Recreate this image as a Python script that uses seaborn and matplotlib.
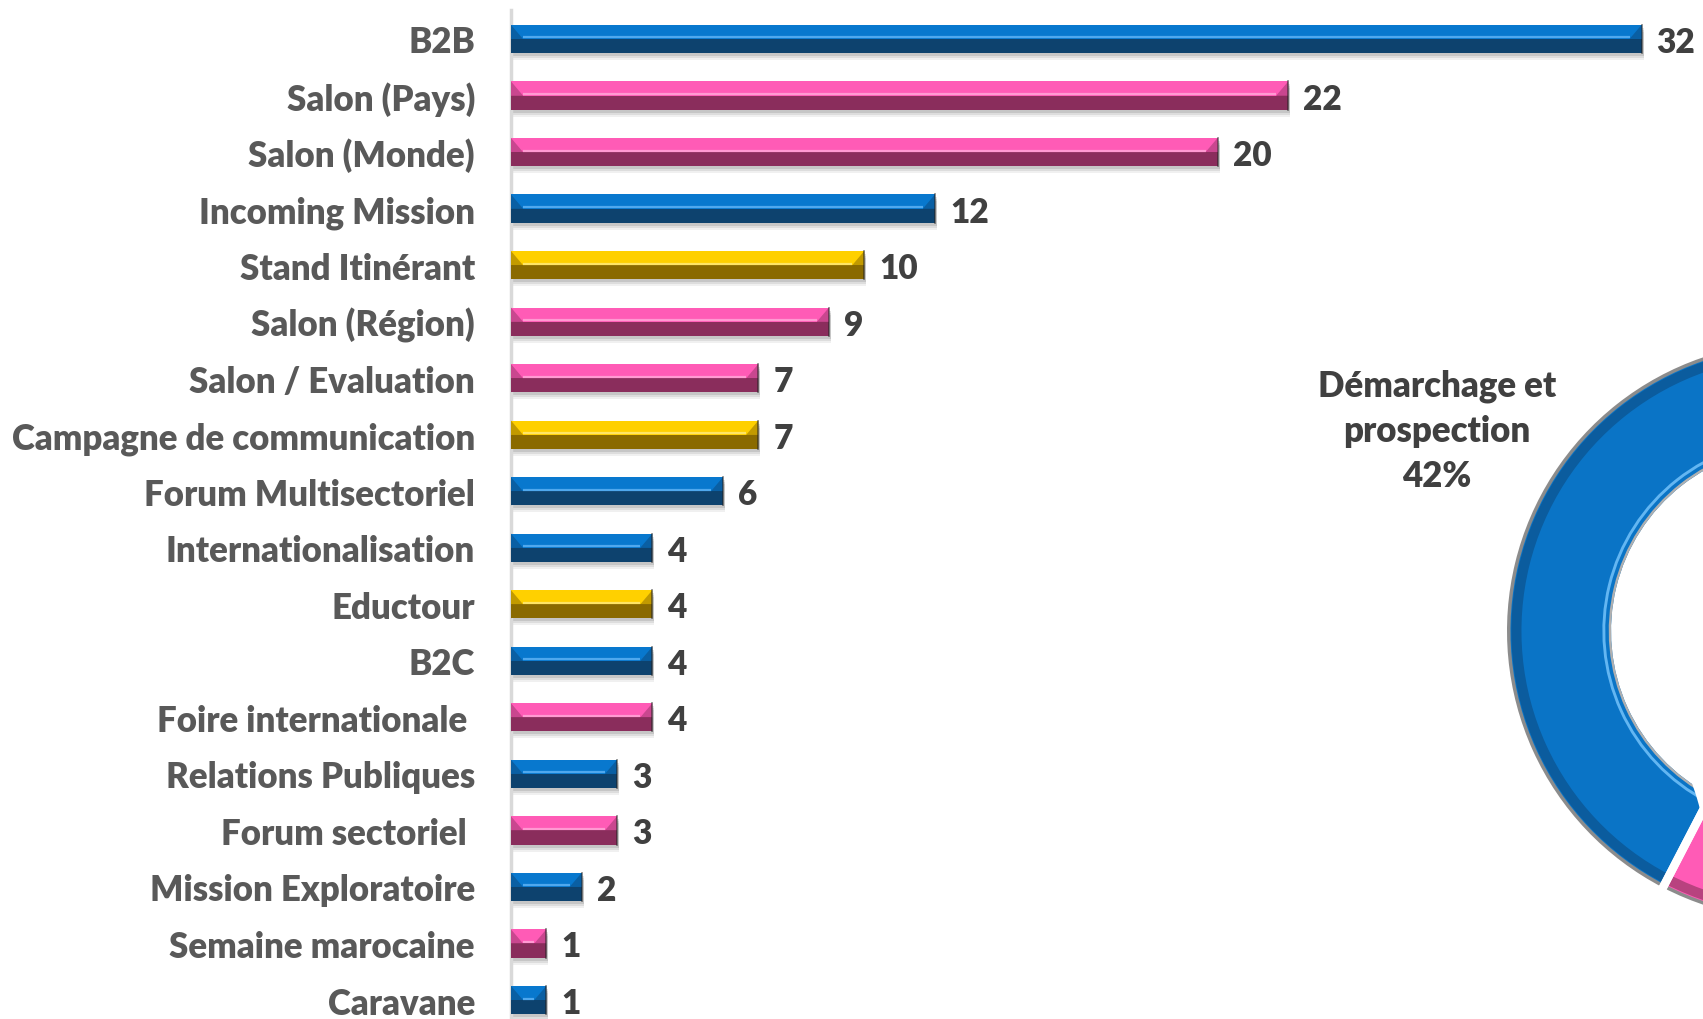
import numpy as np
import pandas as pd
import matplotlib
matplotlib.use("Agg")
import matplotlib.pyplot as plt
from matplotlib.patches import Polygon, Rectangle
import seaborn as sns

# ---------------- data ----------------
categories = ["B2B", "Salon (Pays)", "Salon (Monde)", "Incoming Mission", "Stand Itinérant",
              "Salon (Région)", "Salon / Evaluation", "Campagne de communication",
              "Forum Multisectoriel", "Internationalisation", "Eductour", "B2C",
              "Foire internationale ", "Relations Publiques", "Forum sectoriel ",
              "Mission Exploratoire", "Semaine marocaine", "Caravane"]
values = [32, 22, 20, 12, 10, 9, 7, 7, 6, 4, 4, 4, 4, 3, 3, 2, 1, 1]
groups = ["Démarchage et prospection", "Salons", "Salons", "Démarchage et prospection",
          "Promotion", "Salons", "Salons", "Promotion", "Démarchage et prospection",
          "Démarchage et prospection", "Promotion", "Démarchage et prospection", "Salons",
          "Démarchage et prospection", "Salons", "Démarchage et prospection", "Salons",
          "Démarchage et prospection"]
group_order = ["Démarchage et prospection", "Salons", "Promotion"]

top_colors = {"Démarchage et prospection": "#0878CE", "Salons": "#FF5BB6", "Promotion": "#FFD000"}
dark_colors = {"Démarchage et prospection": "#0D426E", "Salons": "#8A2D5C", "Promotion": "#8A6A00"}
mid_colors = {"Démarchage et prospection": "#0A5FA3", "Salons": "#C9478F", "Promotion": "#C29A00"}
hi_colors = {"Démarchage et prospection": "#4FA8EE", "Salons": "#FF9AD2", "Promotion": "#FFE566"}

df = pd.DataFrame({"category": categories, "value": values, "group": groups})

# ---------------- figure ----------------
W, H = 1703, 1020
fig = plt.figure(figsize=(W / 100, H / 100), dpi=100)
fig.patch.set_facecolor("white")
FONT = ["Lato", "DejaVu Sans"]
plt.rcParams["font.family"] = FONT
WEIGHT = "heavy"

axis_x = 511
ax = fig.add_axes([axis_x / W, 0, 1 - axis_x / W, 1])
sns.barplot(data=df, x="value", y="category", hue="group", hue_order=group_order,
            palette=top_colors, dodge=False, orient="h", width=0.5, ax=ax,
            legend=False, saturation=1, zorder=3)

px_per_unit = 35.33
ax.set_xlim(0, (W - axis_x) / px_per_unit)
ax.set_ylim(17 + 19 / 56.53, -40 / 56.53)
ax.set_xlabel("")
ax.set_ylabel("")
ax.set_xticks([])
for s in ["top", "right", "bottom"]:
    ax.spines[s].set_visible(False)
ax.spines["left"].set_color("#D9D9D9")
ax.spines["left"].set_linewidth(2.5)
ax.spines["left"].set_bounds(17 + 19 / 56.53, -0.52)
ax.tick_params(axis="y", length=0, pad=26)
for lab in ax.get_yticklabels():
    lab.set_fontsize(25)
    lab.set_fontweight(WEIGHT)
    lab.set_color("#595959")
    lab.set_family(FONT)

# unit conversions from the axes' own transform
p0 = ax.transData.transform((0, 0))
p1 = ax.transData.transform((1, 1))
ux = 1.0 / abs(p1[0] - p0[0])  # data x per pixel
uy = 1.0 / abs(p1[1] - p0[1])  # data y per pixel

color_to_group = {matplotlib.colors.to_hex(v): k for k, v in top_colors.items()}
bars = [p for p in ax.patches if isinstance(p, Rectangle) and p.get_width() > 0]
for p in bars:
    x0, y0, w, h = p.get_x(), p.get_y(), p.get_width(), p.get_height()
    g = color_to_group.get(matplotlib.colors.to_hex(p.get_facecolor()), group_order[0])
    x1 = x0 + w
    ym = y0 + h / 2
    b = min(12 * ux, w / 2.5)
    # shadow
    for k, a in [(7, 0.06), (5, 0.08), (3, 0.10)]:
        ax.add_patch(Rectangle((x0, y0 + k * uy), w + 2 * ux, h, facecolor="#000000",
                               alpha=a, edgecolor="none", zorder=2))
    # lower dark half
    ax.add_patch(Polygon([(x0, ym), (x1, ym), (x1, y0 + h), (x0, y0 + h)],
                         closed=True, facecolor=dark_colors[g], edgecolor="none", zorder=4))
    # highlight line at middle
    ax.plot([x0 + b, x1 - b], [ym - 1.5 * uy, ym - 1.5 * uy], color=hi_colors[g],
            lw=1.6, zorder=5, solid_capstyle="butt")
    # left bevel
    ax.add_patch(Polygon([(x0, y0), (x0 + b, ym), (x0, ym)], closed=True,
                         facecolor=mid_colors[g], edgecolor="none", zorder=5))
    ax.add_patch(Polygon([(x0, ym), (x0 + b, ym), (x0, y0 + h)], closed=True,
                         facecolor=dark_colors[g], edgecolor="none", zorder=5, alpha=0.9))
    # right bevel
    ax.add_patch(Polygon([(x1, y0), (x1 - b, ym), (x1, ym)], closed=True,
                         facecolor=mid_colors[g], edgecolor="none", zorder=5))
    ax.add_patch(Polygon([(x1, ym), (x1 - b, ym), (x1, y0 + h)], closed=True,
                         facecolor=dark_colors[g], edgecolor="none", zorder=5))
    ax.plot([x1, x1], [y0, y0 + h], color="#222222", lw=1.2, zorder=6, alpha=0.6)

# value labels
for i, v in enumerate(values):
    ax.text(v + 15 * ux, i + 3 * uy, str(v), va="center", ha="left", fontsize=24,
            fontweight=WEIGHT, color="#404040", family=FONT, zorder=7)

# ---------------- donut ----------------
totals = df.groupby("group")["value"].sum().reindex(group_order)
R = 289
cx, cy = 1796, 632
dax = fig.add_axes([(cx - R) / W, (H - cy - R) / H, 2 * R / W, 2 * R / H])
dax.set_aspect("equal")
ring_w = 0.36
base = ["#0A74C6", "#FF5BB6", "#FFD000"]
outer_dark = ["#0B5C9E", "#B8427F", "#B89200"]
inner_hi = ["#63B6F2", "#FFA0D6", "#FFE98A"]
kw = dict(startangle=90, counterclock=True)
dax.pie(totals.values, colors=base, radius=0.995,
        wedgeprops=dict(width=ring_w - 0.005, edgecolor="none"), **kw)
dax.pie(totals.values, colors=outer_dark, radius=0.985,
        wedgeprops=dict(width=0.035, edgecolor="none"), **kw)
dax.pie(totals.values, colors=inner_hi, radius=1 - ring_w + 0.03,
        wedgeprops=dict(width=0.01, edgecolor="none"), **kw)
dax.pie(totals.values, colors=["#8C8C8C"] * 3, radius=1.0,
        wedgeprops=dict(width=0.012, edgecolor="none"), **kw)
dax.pie(totals.values, colors=["#B0B0B0"] * 3, radius=1 - ring_w + 0.008,
        wedgeprops=dict(width=0.008, edgecolor="none"), **kw)
# white separators between segments
dax.pie(totals.values, colors=["none"] * 3, radius=1.05,
        wedgeprops=dict(width=0.5, edgecolor="white", linewidth=6), **kw)
dax.set_xlim(-1, 1)
dax.set_ylim(-1, 1)
dax.axis("off")

pct = totals.iloc[0] / totals.sum() * 100
fig.text(1437 / W, 1 - 431 / H, f"Démarchage et\nprospection\n{pct:.0f}%", ha="center",
         va="center", fontsize=25, fontweight=WEIGHT, color="#404040", family=FONT,
         linespacing=1.44)

fig.savefig("out.png", dpi=100, facecolor="white")
